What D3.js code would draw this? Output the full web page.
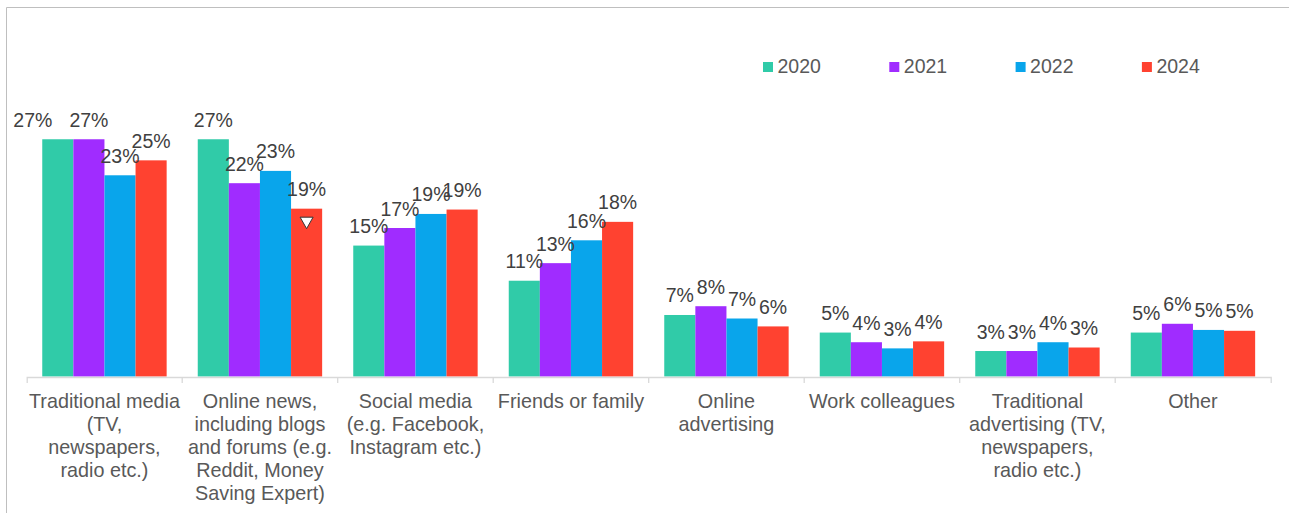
<!DOCTYPE html>
<html>
<head>
<meta charset="utf-8">
<script src="https://cdn.jsdelivr.net/npm/d3@7"></script>
<style>
  body { margin: 0; background: #fff; }
  svg { display: block; }
  text { font-family: "Liberation Sans", Arial, sans-serif; }
</style>
</head>
<body>
<div id="chart"></div>
<script>
const categories = [
  "Traditional media\n(TV,\nnewspapers,\nradio etc.)",
  "Online news,\nincluding blogs\nand forums (e.g.\nReddit, Money\nSaving Expert)",
  "Social media\n(e.g. Facebook,\nInstagram etc.)",
  "Friends or family",
  "Online\nadvertising",
  "Work colleagues",
  "Traditional\nadvertising (TV,\nnewspapers,\nradio etc.)",
  "Other"
]
const years = ["2020", "2021", "2022", "2024"]
const v2020 = [27.0, 27.0, 14.9, 10.9, 7.0, 5.0, 2.9, 5.0]
const v2021 = [27.0, 22.0, 16.9, 12.9, 8.0, 3.9, 2.9, 6.0]
const v2022 = [22.9, 23.4, 18.5, 15.5, 6.6, 3.2, 3.9, 5.3]
const v2024 = [24.6, 19.1, 19.0, 17.6, 5.7, 4.0, 3.3, 5.2]
const colors = ["#30CBA8", "#A02CFF", "#09A5EB", "#FF4230"]
// significant decrease marker: [category index, year index]
const sigDown = [[1, 3]]

const W = 1289, H = 513
const AXIS_Y = 376.5

const series = [v2020, v2021, v2022, v2024]
const data = categories.map((c, i) => ({
  cat: c,
  vals: years.map((y, j) => ({ year: y, j: j, v: series[j][i] }))
}))

const svg = d3.select("#chart").append("svg")
  .attr("width", W)
  .attr("height", H)

// frame
svg.append("path")
  .attr("d", `M6.5,${H}V7.5H${W}`)
  .attr("fill", "none")
  .attr("stroke", "#BFBFBF")
  .attr("stroke-width", 1)

const x0 = d3.scaleBand()
  .domain(categories)
  .range([26.7, 1270.7])
  .paddingInner(0.2)
  .paddingOuter(0.1)

const x1 = d3.scaleBand()
  .domain(years)
  .range([0, x0.bandwidth()])

const y = d3.scaleLinear()
  .domain([0, 30])
  .range([AXIS_Y, 112.9])

// bars
const groups = svg.append("g").selectAll("g")
  .data(data)
  .join("g")
    .attr("transform", d => `translate(${x0(d.cat)},0)`)

groups.selectAll("rect")
  .data(d => d.vals)
  .join("rect")
    .attr("x", d => x1(d.year))
    .attr("y", d => y(d.v))
    .attr("width", x1.bandwidth())
    .attr("height", d => y(0) - y(d.v))
    .attr("fill", d => colors[d.j])

// value labels
const fmt = d => Math.round(d) + "%"
groups.selectAll("text.val")
  .data(d => d.vals)
  .join("text")
    .attr("class", "val")
    .attr("x", (d, i, n) => {
      let cx = x1(d.year) + x1.bandwidth() / 2
      // first label nudged left so it doesn't collide
      if (n[i].parentNode.__data__ === data[0] && d.j === 0) cx -= 25
      return cx
    })
    .attr("y", d => y(d.v) - 12.5)
    .attr("text-anchor", "middle")
    .attr("font-size", "19.5px")
    .attr("fill", "#404040")
    .text(d => fmt(d.v))

// significance triangles
sigDown.forEach(([ci, yi]) => {
  const cx = x0(categories[ci]) + x1(years[yi]) + x1.bandwidth() / 2
  const top = y(series[yi][ci]) + 8.5
  svg.append("path")
    .attr("d", `M${cx - 6.5},${top}L${cx + 6.5},${top}L${cx},${top + 11.5}Z`)
    .attr("fill", "#fff")
    .attr("stroke", "#333")
    .attr("stroke-width", 1)
})

// x axis
const xAxis = d3.axisBottom(x0)
  .tickSize(0)
  .tickSizeOuter(6)
  .tickPadding(0)

const axisG = svg.append("g")
  .attr("transform", `translate(0,${AXIS_Y + 0.5})`)
  .call(xAxis)

axisG.select(".domain").attr("stroke", "#D9D9D9").attr("stroke-width", 1.3)

// boundary ticks between categories
axisG.selectAll("line.sep")
  .data(categories.slice(1))
  .join("line")
    .attr("class", "sep")
    .attr("x1", d => x0(d) - x0.step() * x0.paddingInner() / 2)
    .attr("x2", d => x0(d) - x0.step() * x0.paddingInner() / 2)
    .attr("y1", 0)
    .attr("y2", 6)
    .attr("stroke", "#D9D9D9")
    .attr("stroke-width", 1.3)

axisG.selectAll(".tick text")
  .attr("font-family", "'Liberation Sans', Arial, sans-serif")
  .attr("font-size", "19.8px")
  .attr("fill", "#595959")
  .attr("y", 0)
  .attr("dy", null)
  .each(function(d) {
    const t = d3.select(this)
    t.text(null)
    d.split("\n").forEach((line, k) => {
      t.append("tspan")
        .attr("x", 0)
        .attr("y", 30.8 + k * 23)
        .text(line)
    })
  })

// legend
const legend = svg.append("g").selectAll("g")
  .data(years)
  .join("g")
    .attr("transform", (d, i) => `translate(${763 + i * 126.3},62)`)

legend.append("rect")
  .attr("width", 10)
  .attr("height", 10)
  .attr("fill", (d, i) => colors[i])

legend.append("text")
  .attr("x", 14.5)
  .attr("y", 11.3)
  .attr("font-size", "19.5px")
  .attr("fill", "#595959")
  .text(d => d)
</script>
</body>
</html>
